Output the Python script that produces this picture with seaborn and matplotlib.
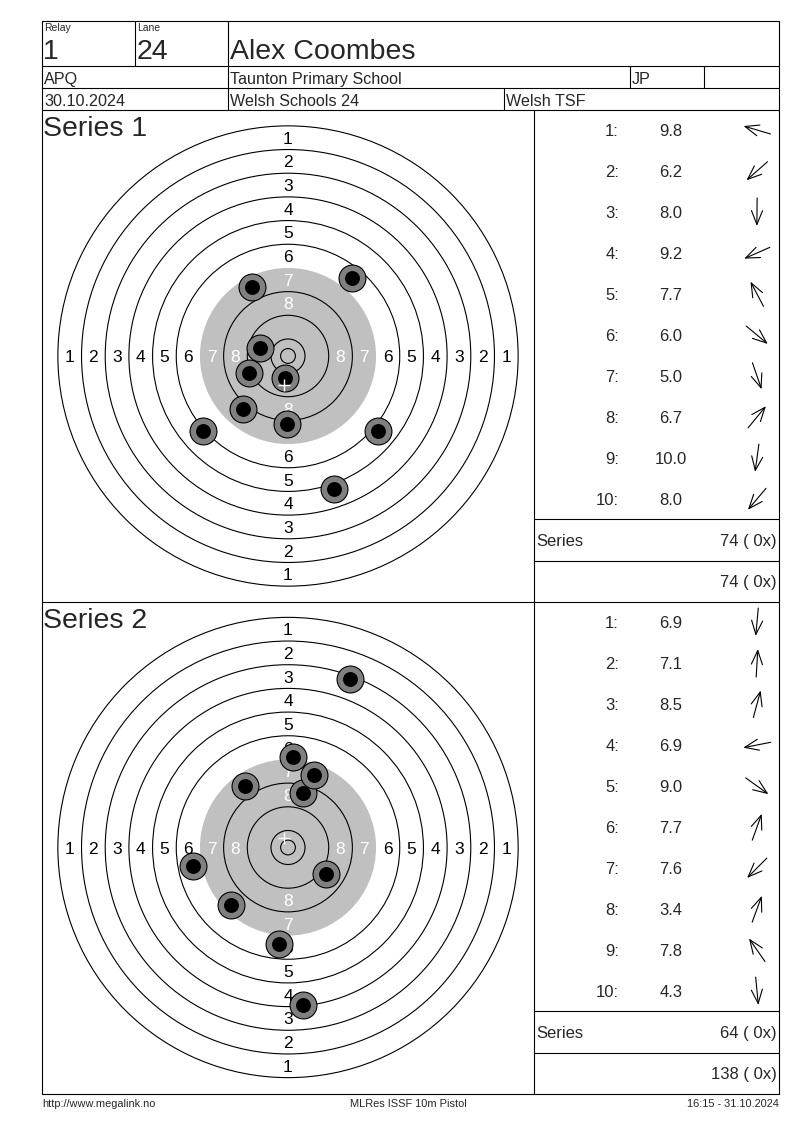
import numpy as np
import pandas as pd
import matplotlib
matplotlib.use("Agg")
import matplotlib.pyplot as plt
from matplotlib.patches import Circle
import seaborn as sns

# header info
relay = "1"
lane = "24"
shooter = "Alex Coombes"
event_code = "APQ"
club = "Taunton Primary School"
nation = "JP"
match_date = "30.10.2024"
competition = "Welsh Schools 24"
organiser = "Welsh TSF"
footer_left = "http://www.megalink.no"
footer_mid = "MLRes ISSF 10m Pistol"
footer_right = "16:15 - 31.10.2024"

# ISSF 10m pistol target, ring diameters in mm (ring 1..10) + inner ten
ring_diam = [155.5, 139.5, 123.5, 107.5, 91.5, 75.5, 59.5, 43.5, 27.5, 11.5]
inner_ten = 5.0
label_rings = [1, 2, 3, 4, 5, 6, 7, 8]

# shots: decimal score and hit position in mm (x right, y up)
s1_scores = [9.8, 6.2, 8.0, 9.2, 7.7, 6.0, 5.0, 6.7, 10.0, 8.0]
s1_x = [-9.5, -28.6, -0.2, -13.2, -12.3, 30.5, 15.5, 21.5, -1.0, -15.1]
s1_y = [2.8, -25.3, -23.1, -5.8, 23.4, -25.3, -44.9, 26.2, -7.3, -17.9]
s2_scores = [6.9, 7.1, 8.5, 6.9, 9.0, 7.7, 7.6, 3.4, 7.8, 4.3]
s2_x = [-3.0, 1.8, 5.0, -32.0, 12.7, 8.8, -19.3, 20.9, -14.5, 5.1]
s2_y = [-32.6, 30.7, 18.5, -6.3, -9.1, 24.5, -19.4, 56.9, 20.8, -53.2]
inner_tens = [0, 0]

GREY_ZONE = "#c0c0c0"
SHOT_RING = "#808080"
LW = 0.8
PX_PER_MM = 2.96
TXT = 12

sns.set_style("white")
plt.rcParams["font.family"] = ["Liberation Sans", "DejaVu Sans"]

fig = plt.figure(figsize=(8, 11.3), dpi=100)
ax = fig.add_axes([0, 0, 1, 1])
ax.set_xlim(0, 800)
ax.set_ylim(1130, 0)
ax.axis("off")

L, R, T, B = 42, 779, 21, 1094
COL = 534


def hline(y, x0=L, x1=R):
    ax.plot([x0, x1], [y, y], color="black", lw=LW)


def vline(x, y0, y1):
    ax.plot([x, x], [y0, y1], color="black", lw=LW)


# frame and header grid
hline(T); hline(B)
vline(L, T, B); vline(R, T, B)
for y in (66, 88, 110, 602):
    hline(y)
vline(135, T, 66); vline(228, T, 66)
vline(228, 66, 88); vline(630, 66, 88); vline(704, 66, 88)
vline(228, 88, 110); vline(504, 88, 110)
vline(COL, 110, B)

ax.text(44, 31, "Relay", fontsize=7.5, va="baseline")
ax.text(137, 31, "Lane", fontsize=7.5, va="baseline")
ax.text(43, 59, relay, fontsize=20.5, va="baseline")
ax.text(137, 59, lane, fontsize=20.5, va="baseline")
ax.text(230, 59, shooter, fontsize=20.5, va="baseline")
ax.text(44, 84, event_code, fontsize=11.6, va="baseline")
ax.text(230, 84, club, fontsize=11.6, va="baseline")
ax.text(632, 84, nation, fontsize=11.6, va="baseline")
ax.text(44, 106, match_date, fontsize=11.6, va="baseline")
ax.text(230, 106, competition, fontsize=11.6, va="baseline")
ax.text(506, 106, organiser, fontsize=11.6, va="baseline")

ax.text(L, 1107, footer_left, fontsize=7.9, va="baseline")
ax.text(408, 1107, footer_mid, fontsize=7.9, va="baseline", ha="center")
ax.text(R, 1107, footer_right, fontsize=7.9, va="baseline", ha="right")


def draw_target(top, bottom, cy, xs, ys):
    tax = fig.add_axes([L / 800, 1 - bottom / 1130, (COL - L) / 800, (bottom - top) / 1130])
    tax.set_xlim((L - 288) / PX_PER_MM, (COL - 288) / PX_PER_MM)
    tax.set_ylim((cy - bottom) / PX_PER_MM, (cy - top) / PX_PER_MM)
    tax.axis("off")
    tax.patch.set_alpha(0)
    for i, d in enumerate(ring_diam):
        if i + 1 == 7:
            tax.add_patch(Circle((0, 0), d / 2, facecolor=GREY_ZONE, edgecolor="none", zorder=1))
        else:
            tax.add_patch(Circle((0, 0), d / 2, fill=False, edgecolor="black", lw=LW, zorder=2))
    tax.add_patch(Circle((0, 0), inner_ten / 2, fill=False, edgecolor="black", lw=LW, zorder=2))
    for n in label_rings:
        r = (ring_diam[n - 1] + ring_diam[n]) / 4
        col = "white" if n >= 7 else "black"
        for ux, uy in ((0, 1), (0, -1), (-1, 0), (1, 0)):
            tax.text(ux * r, uy * r, str(n), fontsize=12.5, color=col,
                     ha="center", va="center_baseline", zorder=3)
    df = pd.DataFrame({"x": xs, "y": ys})
    sns.scatterplot(data=df, x="x", y="y", ax=tax, s=375, color=SHOT_RING,
                    edgecolor="black", linewidth=LW, zorder=4, legend=False)
    sns.scatterplot(data=df, x="x", y="y", ax=tax, s=115, color="black",
                    edgecolor="black", linewidth=0, zorder=5, legend=False)
    tax.plot([np.mean(xs)], [np.mean(ys)], marker="+", color="white",
             markersize=9, mew=1.0, zorder=6)
    tax.set_xlabel("")
    tax.set_ylabel("")


def draw_table(title, top, scores, xs, ys, running, tens):
    ax.text(43, top + 26, title, fontsize=20.5, va="baseline", zorder=10)
    row0 = top + 20
    for i, sc in enumerate(scores):
        yy = row0 + 41 * i
        ax.text(619, yy, f"{i + 1}:", fontsize=TXT, ha="right", va="center_baseline")
        ax.text(671, yy, f"{sc:.1f}", fontsize=TXT, ha="center", va="center_baseline")
        a = np.arctan2(ys[i], xs[i])
        dx, dy = 14 * np.cos(a), -14 * np.sin(a)
        ax.annotate("", xy=(757 + dx, yy + dy), xytext=(757 - dx, yy - dy),
                    arrowprops=dict(arrowstyle="->,head_length=1.0,head_width=0.4",
                                    lw=LW, color="black", shrinkA=0, shrinkB=0,
                                    mutation_scale=10))
    total = int(np.sum(np.floor(scores)))
    y_series = top + 409
    y_total = top + 451
    hline(y_series, COL, R)
    hline(y_total, COL, R)
    ax.text(536, y_series + 21, "Series", fontsize=TXT, va="center_baseline")
    ax.text(777, y_series + 21, f"{total} ( {tens}x)", fontsize=TXT, ha="right",
            va="center_baseline")
    ax.text(777, y_total + 20, f"{running + total} ( {tens}x)", fontsize=TXT,
            ha="right", va="center_baseline")
    return running + total


draw_target(110, 602, 356, s1_x, s1_y)
draw_target(602, 1094, 847.5, s2_x, s2_y)
run = draw_table("Series 1", 110, s1_scores, s1_x, s1_y, 0, inner_tens[0])
run = draw_table("Series 2", 602, s2_scores, s2_x, s2_y, run, inner_tens[1])

fig.savefig("out.png", dpi=100, facecolor="white")
